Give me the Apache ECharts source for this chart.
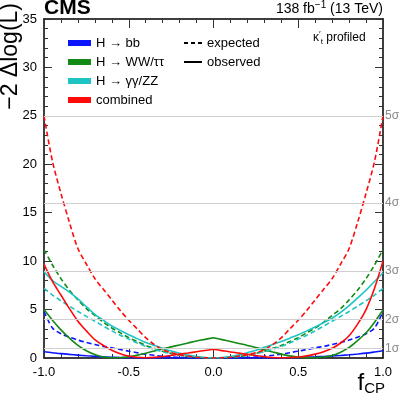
<!DOCTYPE html>
<html>
<head>
<meta charset="utf-8">
<script src="https://cdn.jsdelivr.net/npm/echarts@6/dist/echarts.min.js"></script>
<style>
  html, body { margin: 0; padding: 0; background: #fff; }
  #chart { width: 399px; height: 399px; }
</style>
</head>
<body>
<div id="chart"></div>
<script>
// f_CP scan points (step 0.05)
const fcp = [-1, -0.95, -0.9, -0.85, -0.8, -0.75, -0.7, -0.65, -0.6, -0.55, -0.5,
             -0.45, -0.4, -0.35, -0.3, -0.25, -0.2, -0.15, -0.1, -0.05, 0,
             0.05, 0.1, 0.15, 0.2, 0.25, 0.3, 0.35, 0.4, 0.45, 0.5,
             0.55, 0.6, 0.65, 0.7, 0.75, 0.8, 0.85, 0.9, 0.95, 1];

// -2 dlogL, expected
const bbExp   = [4.8, 3.1, 2.5, 2.15, 1.85, 1.6, 1.4, 1.2, 1.05, 0.88, 0.7,
                 0.55, 0.4, 0.28, 0.18, 0.11, 0.06, 0.03, 0.01, 0, 0,
                 0, 0.01, 0.03, 0.06, 0.11, 0.18, 0.28, 0.4, 0.55, 0.7,
                 0.88, 1.05, 1.2, 1.4, 1.6, 1.85, 2.15, 2.5, 3.1, 4.8];
const wwExp   = [11.2, 9.6, 8.2, 7.0, 6.0, 5.1, 4.4, 3.7, 3.1, 2.6, 2.1,
                 1.7, 1.3, 1.0, 0.7, 0.48, 0.3, 0.17, 0.08, 0.02, 0,
                 0.02, 0.08, 0.17, 0.3, 0.48, 0.7, 1.0, 1.3, 1.7, 2.1,
                 2.6, 3.1, 3.7, 4.4, 5.1, 6.0, 7.0, 8.2, 9.6, 11.2];
const ggExp   = [7.2, 6.5, 5.9, 5.35, 4.8, 4.3, 3.8, 3.3, 2.8, 2.35, 1.95,
                 1.55, 1.2, 0.9, 0.65, 0.45, 0.28, 0.15, 0.07, 0.02, 0,
                 0.02, 0.07, 0.15, 0.28, 0.45, 0.65, 0.9, 1.2, 1.55, 1.95,
                 2.35, 2.8, 3.3, 3.8, 4.3, 4.8, 5.35, 5.9, 6.5, 7.2];
const combExp = [25, 20.3, 17.0, 14.0, 11.3, 9.7, 8.2, 7.1, 6.0, 4.9, 3.9,
                 3.0, 2.1, 1.4, 0.85, 0.55, 0.35, 0.2, 0.08, 0.02, 0,
                 0.02, 0.08, 0.2, 0.35, 0.55, 0.85, 1.4, 2.1, 3.0, 3.9,
                 4.9, 6.0, 7.1, 8.2, 9.7, 11.3, 14.0, 17.0, 20.3, 25];

// -2 dlogL, observed
const bbObs   = [0.65, 0.55, 0.45, 0.37, 0.3, 0.23, 0.17, 0.12, 0.08, 0.05, 0.03,
                 0.02, 0.01, 0, 0, 0, 0, 0, 0, 0, 0,
                 0, 0, 0, 0, 0, 0, 0.01, 0.02, 0.04, 0.06,
                 0.09, 0.12, 0.16, 0.2, 0.26, 0.33, 0.41, 0.5, 0.62, 0.75];
const wwObs   = [5.0, 3.9, 2.9, 2.05, 1.3, 0.75, 0.35, 0.1, 0.02, 0.03, 0.12,
                 0.3, 0.5, 0.72, 0.95, 1.15, 1.35, 1.55, 1.75, 1.92, 2.1,
                 1.9, 1.7, 1.5, 1.3, 1.08, 0.85, 0.62, 0.4, 0.22, 0.08,
                 0.03, 0.04, 0.1, 0.25, 0.6, 1.1, 1.8, 2.6, 3.7, 4.95];
const ggObs   = [8.9, 8.0, 7.4, 6.8, 6.1, 5.3, 4.5, 3.9, 3.3, 2.85, 2.4,
                 2.0, 1.6, 1.3, 1.0, 0.72, 0.5, 0.3, 0.15, 0.05, 0.02,
                 0.05, 0.15, 0.32, 0.55, 0.8, 1.1, 1.4, 1.7, 2.05, 2.4,
                 2.8, 3.2, 3.65, 4.1, 4.7, 5.4, 6.2, 7.0, 7.9, 8.8];
const combObs = [9.7, 7.9, 6.5, 5.1, 3.8, 2.8, 1.9, 1.3, 0.8, 0.45, 0.2,
                 0.07, 0.03, 0.06, 0.15, 0.27, 0.4, 0.52, 0.65, 0.78, 0.9,
                 0.76, 0.62, 0.5, 0.38, 0.25, 0.13, 0.05, 0.02, 0.04, 0.1,
                 0.22, 0.4, 0.65, 1.0, 1.55, 2.3, 3.5, 5.0, 7.2, 10.0];

const channels = ['H \u2192 bb', 'H \u2192 WW/\u03c4\u03c4', 'H \u2192 \u03b3\u03b3/ZZ', 'combined'];
const colors = ['#0a14ff', '#138a13', '#1ec3c3', '#ff0a0a'];
const expected = [bbExp, wwExp, ggExp, combExp];
const observed = [bbObs, wwObs, ggObs, combObs];
// observed curves with a kink at f_CP = 0
const kinked = [false, true, false, true];

// sigma reference levels
const sigmaLevels = [1, 4, 9, 16, 25];
const sigmaNames = ['1\u03c3', '2\u03c3', '3\u03c3', '4\u03c3', '5\u03c3'];

const FONT = 'Liberation Sans, Arial, Helvetica, sans-serif';

function pts(ys, kink) {
    const out = [];
    fcp.forEach((x, i) => {
        out.push([x, ys[i]]);
        if (kink && x === 0) {
            // break the smoothed path so the peak stays sharp
            out.push([0, '-']);
            out.push([x, ys[i]]);
        }
    });
    return out;
}

const chart = echarts.init(document.getElementById('chart'));

const series = [];
channels.forEach((name, k) => {
    series.push({
        name: name,
        type: 'line',
        data: pts(expected[k], false),
        smooth: 0.3,
        symbol: 'none',
        color: colors[k],
        lineStyle: { width: 1.6, type: [5, 3], color: colors[k] },
        z: 3
    });
    series.push({
        name: name,
        type: 'line',
        data: pts(observed[k], kinked[k]),
        smooth: 0.3,
        connectNulls: false,
        symbol: 'none',
        color: colors[k],
        lineStyle: { width: 1.6, color: colors[k] },
        z: 3
    });
});

// legend-only entries for line style
series.push({
    name: 'expected', type: 'line', data: [], symbol: 'none', color: '#000',
    lineStyle: { width: 1.2, type: [4, 3], color: '#000' }
});
series.push({
    name: 'observed', type: 'line', data: [], symbol: 'none', color: '#000',
    lineStyle: { width: 1.2, color: '#000' }
});

// sigma gridlines
series.push({
    type: 'line', data: [], silent: true,
    markLine: {
        silent: true,
        symbol: 'none',
        animation: false,
        lineStyle: { color: '#d0d0d0', width: 1, type: 'solid' },
        label: {
            position: 'end', distance: 2, formatter: '{b}',
            color: '#8a8a8a', fontSize: 12, fontFamily: FONT
        },
        data: sigmaLevels.map((v, i) => ({ yAxis: v, name: sigmaNames[i] }))
    },
    z: 1
});

const tickStyle = { color: '#333', width: 1 };

function xAx(pos, labels) {
    return {
        type: 'value', min: -1, max: 1, interval: 0.5, position: pos,
        axisLine: { onZero: false, lineStyle: { color: '#000', width: 1.5 } },
        axisTick: { inside: true, length: 9, lineStyle: tickStyle },
        minorTick: { show: true, splitNumber: 5, length: 4, lineStyle: tickStyle },
        splitLine: { show: false },
        axisLabel: {
            show: labels, formatter: v => v.toFixed(1), color: '#000', fontSize: 13,
            fontFamily: FONT, margin: 8
        }
    };
}

function yAx(pos, labels) {
    return {
        type: 'value', min: 0, max: 35, interval: 5, position: pos,
        axisLine: { show: true, onZero: false, lineStyle: { color: '#000', width: 1.5 } },
        axisTick: { show: true, inside: true, length: 8, lineStyle: tickStyle },
        minorTick: { show: true, splitNumber: 5, length: 4, lineStyle: tickStyle },
        splitLine: { show: false },
        axisLabel: { show: labels, color: '#000', fontSize: 13, fontFamily: FONT, margin: 7 }
    };
}

const option = {
    animation: false,
    grid: { left: 44, top: 19, right: 16, bottom: 41 },
    xAxis: [xAx('bottom', true), xAx('top', false)],
    yAxis: [yAx('left', true), yAx('right', false)],
    legend: [{
        left: 63, top: 31, orient: 'vertical',
        itemWidth: 23, itemHeight: 6, itemGap: 5,
        icon: 'rect',
        data: channels,
        textStyle: { color: '#000', fontSize: 13, lineHeight: 14, fontFamily: FONT }
    }, {
        left: 178, top: 31, orient: 'vertical',
        itemWidth: 18, itemHeight: 6, itemGap: 5,
        data: ['expected', 'observed'],
        itemStyle: { color: 'transparent', borderColor: 'transparent', borderWidth: 0 },
        textStyle: { color: '#000', fontSize: 13, lineHeight: 14, fontFamily: FONT }
    }],
    graphic: [{
        type: 'text', left: 44, top: -2,
        style: { text: 'CMS', font: 'bold 21px ' + FONT, fill: '#000' }
    }, {
        type: 'text', right: 16, top: 0,
        style: {
            text: '{n|138 fb}{sup|\u22121}{n| (13 TeV)}',
            rich: {
                n: { fontSize: 14, fontFamily: FONT, fill: '#000', lineHeight: 18 },
                sup: { fontSize: 10, fontFamily: FONT, fill: '#000', verticalAlign: 'top', lineHeight: 11 }
            }
        }
    }, {
        type: 'text', left: 313, top: 30,
        style: {
            text: '{n|\u03ba}{sup|\u2032}{sub|t}{n| profiled}',
            rich: {
                n: { fontSize: 12, fontFamily: FONT, fill: '#000', lineHeight: 16 },
                sup: { fontSize: 9, fontFamily: FONT, fill: '#000', verticalAlign: 'top', lineHeight: 10 },
                sub: { fontSize: 8, fontFamily: FONT, fill: '#000', verticalAlign: 'bottom', lineHeight: 9 }
            }
        }
    }, {
        type: 'text', x: 11, y: 3, rotation: Math.PI / 2,
        style: {
            text: '\u22122 \u0394log(L)', font: '23px ' + FONT, fill: '#000',
            align: 'right', verticalAlign: 'middle'
        }
    }, {
        type: 'text', right: 14, top: 371,
        style: {
            text: '{f|f}{s|CP}',
            rich: {
                f: { fontSize: 24, fontFamily: FONT, fill: '#000', lineHeight: 26 },
                s: { fontSize: 15, fontFamily: FONT, fill: '#000', verticalAlign: 'bottom', lineHeight: 16 }
            }
        }
    }],
    series: series
};

chart.setOption(option);
</script>
</body>
</html>
